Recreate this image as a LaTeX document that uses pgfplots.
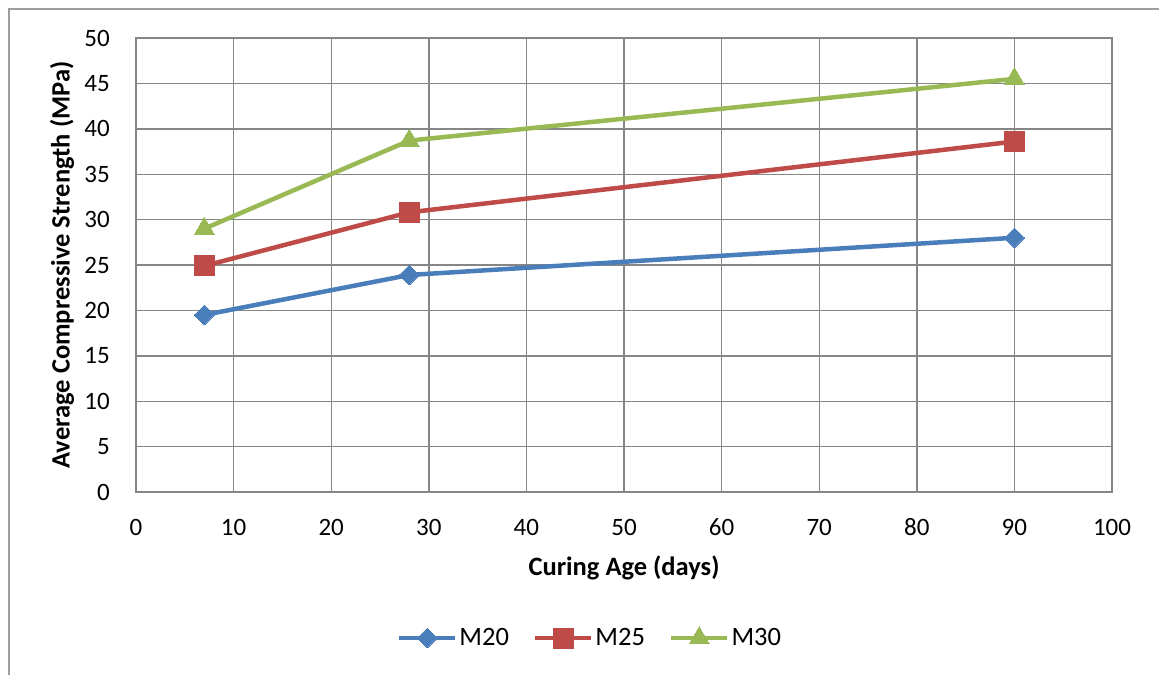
\documentclass[border=0pt]{standalone}
\usepackage{fontspec}
\setmainfont{Carlito}
\usepackage{pgfplots}
\pgfplotsset{compat=1.18}
\definecolor{sblue}{RGB}{74,126,187}
\definecolor{sred}{RGB}{190,75,72}
\definecolor{sgreen}{RGB}{152,185,84}
\definecolor{gridc}{RGB}{134,134,134}
\begin{document}
\begin{tikzpicture}
\useasboundingbox (0pt,0pt) rectangle (1159pt,675pt);
\draw[gridc!80, line width=1.2pt] (9pt,0pt) -- (9pt,666pt) -- (1159pt,666pt);
\begin{axis}[
  at={(136pt,183pt)}, anchor=south west,
  scale only axis, width=976pt, height=454pt,
  xmin=0, xmax=100, ymin=0, ymax=50,
  xtick={0,10,...,100}, ytick={0,5,...,50},
  grid=major,
  grid style={gridc, line width=1.4pt},
  axis line style={gridc, line width=1.4pt},
  major tick length=0pt,
  tick label style={font=\fontsize{25}{28}\selectfont, inner sep=0pt},
  /pgf/number format/assume math mode=true,
  xticklabel style={anchor=center, yshift=-35pt},
  yticklabel style={anchor=east, xshift=-26pt},
  xlabel={\textbf{Curing Age (days)}},
  ylabel={\textbf{Average Compressive Strength (MPa)}},
  label style={font=\fontsize{26.5}{29}\selectfont},
  xlabel style={at={(axis description cs:0.5,0)}, anchor=center, yshift=-76pt},
  ylabel style={at={(axis description cs:-0.0758,0.5)}, anchor=center, rotate=0},
  legend style={at={(454pt,-146pt)}, anchor=center, draw=none, fill=none,
    legend columns=3, font=\fontsize{26.5}{29}\selectfont,
    /tikz/every even column/.append style={column sep=22pt}},
  legend image code/.code={
    \draw[#1, mark=none] (0pt,0pt) -- (56pt,0pt);
    \path[#1] plot coordinates {(28pt,0pt)};
  },
  every axis plot/.append style={line width=4.5pt},
]
\addplot[sblue, mark=square*, mark size=7pt, mark options={solid, line width=0pt, rotate=45}] coordinates {(7,19.5) (28,23.9) (90,28.0)};
\addlegendentry{M20}
\addplot[sred, mark=square*, mark size=10pt, mark options={solid, line width=0pt}] coordinates {(7,24.9) (28,30.8) (90,38.6)};
\addlegendentry{M25}
\addplot[sgreen, mark=triangle*, mark size=11.5pt, mark options={solid, line width=0pt}] coordinates {(7,29.0) (28,38.7) (90,45.5)};
\addlegendentry{M30}
\end{axis}
\end{tikzpicture}
\end{document}
